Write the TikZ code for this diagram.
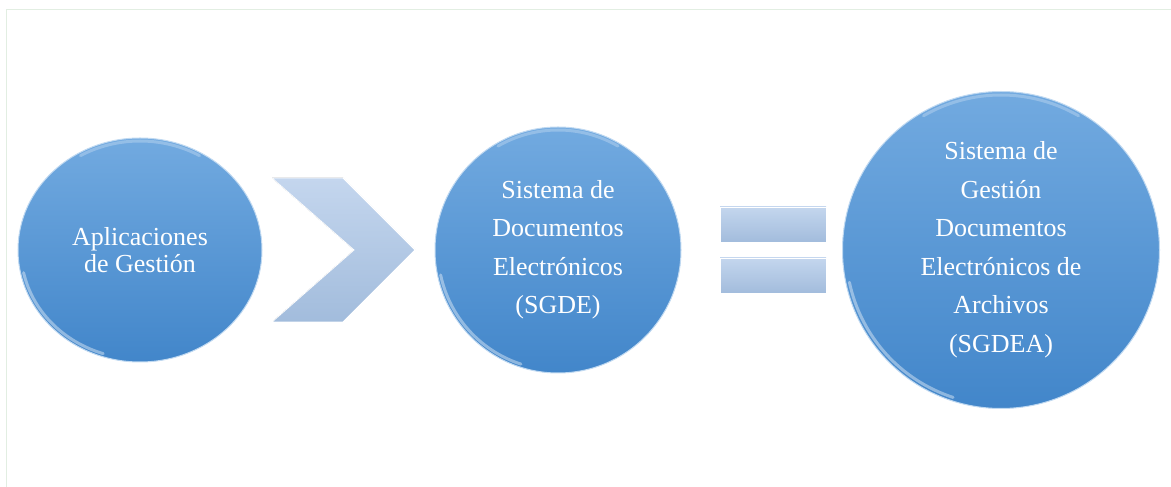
\documentclass[tikz,border=0pt]{standalone}
\usepackage{fontspec}
\setmainfont{Liberation Serif}
\usetikzlibrary{positioning}
\usetikzlibrary{calc}
\usetikzlibrary{shapes.geometric}
\definecolor{ballTop}{RGB}{114,170,224}
\definecolor{ballBot}{RGB}{66,134,202}
\definecolor{bevelTop}{RGB}{196,214,238}
\definecolor{bevelBot}{RGB}{162,188,220}
\definecolor{frameLine}{RGB}{226,238,226}
% white shine along the rim of a ball: name, x radius, y radius
\newcommand{\gloss}[3]{%
  \draw[gloss] ($(#1.center)+(192:#2 and #3)$) arc[start angle=192, end angle=252, x radius=#2, y radius=#3];
  \draw[gloss, opacity=.25] ($(#1.center)+(60:#2 and #3)$) arc[start angle=60, end angle=120, x radius=#2, y radius=#3];}

\begin{document}
\begin{tikzpicture}[
        x=1pt, y=1pt,
        every node/.style={text=white, align=center},
        ball/.style={ellipse, inner sep=0pt, top color=ballTop, bottom color=ballBot,
                     draw=white!55!ballTop, line width=1pt,
                     font=\fontsize{26}{38.5}\selectfont},
        bevel/.style={top color=bevelTop, bottom color=bevelBot, draw=white, line width=.8pt},
        gloss/.style={white, line width=3pt, line cap=round, opacity=.4}
      ]
      \useasboundingbox (0,0) rectangle (1171,487);

      % thin frame round the figure
      \draw[frameLine, line width=.8pt] (6,0) -- (6,478) -- (1171,478);

      % The three balls, from left to right
      \node (apps) [ball, minimum width=244pt, minimum height=224pt,
                    font=\fontsize{26}{27}\selectfont] at (140,237) {Aplicaciones\\de Gestión};
      \node (sgde) [ball, minimum size=246pt] at (558,237)
            {Sistema de\\Documentos\\Electrónicos\\(SGDE)};
      \node (sgdea) [ball, minimum size=317pt] at (1001,237)
            {Sistema de\\Gestión\\Documentos\\Electrónicos de\\Archivos\\(SGDEA)};

      % shine on the balls
      \gloss{apps}{119}{109}
      \gloss{sgde}{120}{120}
      \gloss{sgdea}{155}{155}

      % Chevron between the first two balls
      \coordinate (chev) at (272,237);
      \fill[bevel] ($(chev)+(0,72)$) -- ++(71,0) -- ++(72,-72) -- ++(-72,-72) -- ++(-71,0)
                   -- ($(chev)+(82,0)$) -- cycle;

      % Equals sign between the last two balls
      \node (eqtop) [bevel, minimum width=106pt, minimum height=35pt] at (773,262.5) {};
      \node (eqbot) [bevel, minimum width=106pt, minimum height=35pt] at (773,211.5) {};
    \end{tikzpicture}
\end{document}
